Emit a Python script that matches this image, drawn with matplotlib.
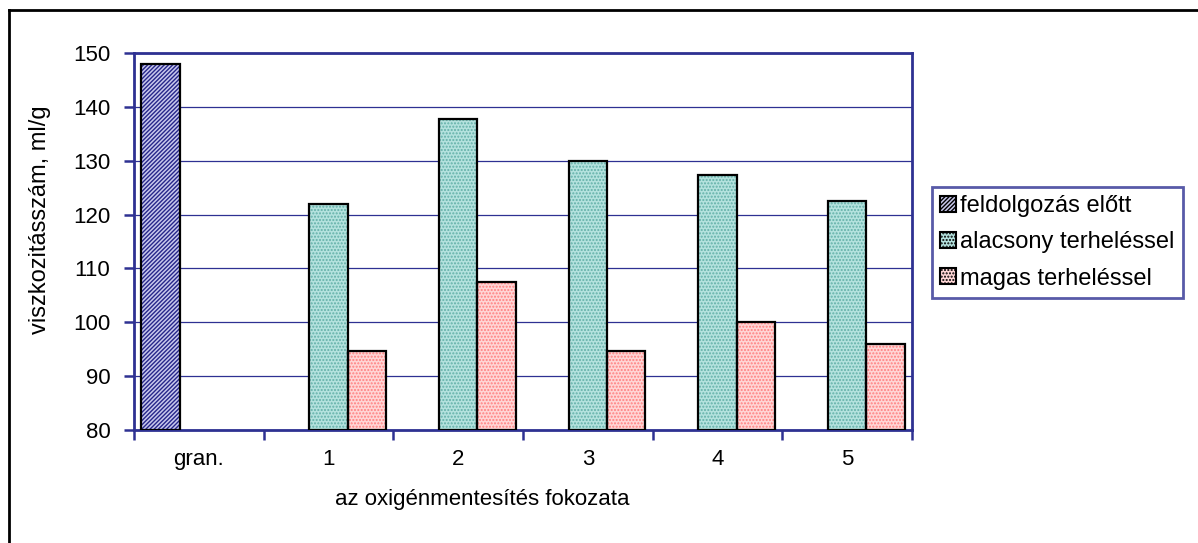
import matplotlib
matplotlib.use("Agg")
import matplotlib.pyplot as plt
import matplotlib.patches as mpatches
from matplotlib.lines import Line2D
import numpy as np

plt.rcParams['font.family'] = ['Liberation Sans', 'DejaVu Sans']

categories = ['gran.', '1', '2', '3', '4', '5']
elott = [148, None, None, None, None, None]
alacsony = [None, 122, 137.8, 130, 127.3, 122.5]
magas = [None, 94.7, 107.5, 94.7, 100, 96]
series_names = ['feldolgozás előtt', 'alacsony terheléssel', 'magas terheléssel']

navy = '#2e3192'
fig = plt.figure(figsize=(11.98, 5.43), dpi=100)
ax = fig.add_axes([134 / 1198, 1 - 430 / 543, (912 - 134) / 1198, (430 - 53) / 543])

x = np.arange(len(categories))
w = 0.296
styles = [
    dict(face='#c8c8ec', hatch='////////', hcol='#26268a'),
    dict(face='#b4e2de', hatch='.....', hcol='#62b0a8'),
    dict(face='#ffd6d6', hatch='.....', hcol='#ff8080'),
]
offsets = [-w, 0, w]
for vals, st, off in zip([elott, alacsony, magas], styles, offsets):
    xs = [xi + off for xi, v in zip(x, vals) if v is not None]
    hs = [v - 80 for v in vals if v is not None]
    ax.bar(xs, hs, w, bottom=80, color=st['face'], hatch=st['hatch'],
           edgecolor=st['hcol'], linewidth=0, zorder=3)
    ax.bar(xs, hs, w, bottom=80, fill=False, edgecolor='black',
           linewidth=1.6, zorder=4)

ax.set_ylim(80, 150)
ax.set_xlim(-0.5, len(categories) - 0.5)
ax.set_yticks(range(80, 151, 10))
ax.yaxis.grid(True, color=navy, linewidth=0.9, zorder=0)
ax.set_axisbelow(True)

ax.set_xticks(np.arange(-0.5, len(categories), 1))
ax.set_xticklabels([])
ax.set_xticks(x, minor=True)
ax.set_xticklabels(categories, minor=True)
ax.tick_params(axis='x', which='major', direction='out', length=7, width=1.8, color=navy)
ax.tick_params(axis='x', which='minor', length=0, labelsize=16, pad=14)
ax.tick_params(axis='y', direction='out', length=7, width=1.8, color=navy, labelsize=16, pad=10)

for sp in ax.spines.values():
    sp.set_color(navy)
    sp.set_linewidth(2)

ax.set_ylabel('viszkozitásszám, ml/g', fontsize=17)
ax.yaxis.set_label_coords(-(134 - 40) / 778, (430 - 220) / 377)
ax.set_xlabel('az oxigénmentesítés fokozata', fontsize=16)
ax.xaxis.set_label_coords((482 - 134) / 778, -(500 - 430) / 377)
ax.xaxis.label.set_va('center')
ax.yaxis.label.set_va('center')

handles = [mpatches.Patch(facecolor=st['face'], hatch=st['hatch'], edgecolor=st['hcol'])
           for st in styles]
leg = fig.legend(handles, series_names, loc='upper left',
                 bbox_to_anchor=(932 / 1198, 1 - 187 / 543), fontsize=17,
                 frameon=True, fancybox=False, borderpad=0.35, handlelength=0.65,
                 handleheight=0.65, handletextpad=0.2, labelspacing=0.6,
                 borderaxespad=0)
leg.get_frame().set_edgecolor(navy)
leg.get_frame().set_linewidth(2)
for p in leg.get_patches():
    p.set_linewidth(1.5)
    p.set_edgecolor('black')

# outer chart frame (left and top edges visible)
fig.add_artist(Line2D([9 / 1198, 9 / 1198], [0, 1 - 10 / 543], color='black', linewidth=2, transform=fig.transFigure))
fig.add_artist(Line2D([9 / 1198, 1], [1 - 10 / 543, 1 - 10 / 543], color='black', linewidth=2, transform=fig.transFigure))

fig.savefig('out.png', dpi=100)
